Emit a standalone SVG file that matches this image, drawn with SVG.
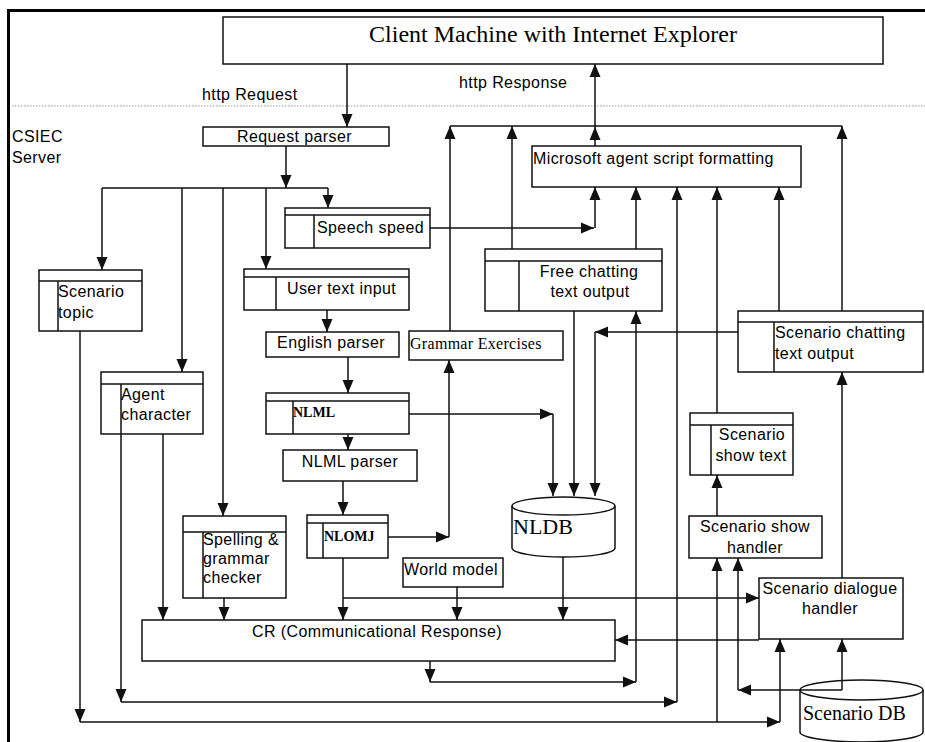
<svg xmlns="http://www.w3.org/2000/svg" width="925" height="742" viewBox="0 0 925 742">
<style>
.b{fill:#fff;stroke:#111;stroke-width:1.5}
.n{fill:none;stroke:#111;stroke-width:1.5}
.t{font-family:"Liberation Sans",Arial,sans-serif;font-size:16px;letter-spacing:0.4px;fill:#000}
.s{font-family:"Liberation Serif","Times New Roman",serif;fill:#000}
.c{text-anchor:middle}
#conn path{fill:none;stroke:#111;stroke-width:1.5}
#conn .a{marker-end:url(#ah)}
</style>
<defs>
<marker id="ah" markerWidth="13" markerHeight="12" refX="13" refY="6" orient="auto" markerUnits="userSpaceOnUse">
<path d="M0,0.5 L13,6 L0,11.5 z" fill="#111"/>
</marker>
</defs>
<rect x="0" y="0" width="925" height="742" fill="#fff"/>
<g id="frame">
<path d="M8.5,742 V10.5 H925" fill="none" stroke="#000" stroke-width="3"/>
<path d="M12,106 H925" fill="none" stroke="#999" stroke-width="1" stroke-dasharray="1.5,1.5"/>
<text class="t" x="202" y="100">http Request</text>
<text class="t" x="459" y="88">http Response</text>
<text class="t" x="12" y="142">CSIEC</text>
<text class="t" x="12" y="163">Server</text>
</g>
<g id="client"><rect class="b" x="223" y="17" width="660" height="47"/><text class="s c" x="553" y="42" font-size="24">Client Machine with Internet Explorer</text></g>
<g id="request-parser"><rect class="b" x="203" y="127" width="186" height="19"/><text class="t" x="237" y="142">Request parser</text></g>
<g id="ms-agent"><rect class="b" x="532" y="146" width="269" height="41"/><text class="t" x="533" y="164">Microsoft agent script formatting</text></g>
<g id="speech-speed"><rect class="b" x="285" y="208" width="145" height="40"/><path class="n" d="M285,215 H430 M314,215 V248"/><text class="t" x="317" y="233">Speech speed</text></g>
<g id="user-text-input"><rect class="b" x="244" y="269" width="165" height="41"/><path class="n" d="M244,277 H409 M276,277 V310"/><text class="t" x="287" y="294">User text input</text></g>
<g id="english-parser"><rect class="b" x="266" y="332" width="133" height="25"/><text class="t c" x="331" y="348">English parser</text></g>
<g id="grammar-exercises"><rect class="b" x="409" y="331" width="154" height="29"/><text class="s" x="410" y="349" font-size="16" letter-spacing="0.3">Grammar Exercises</text></g>
<g id="nlml"><rect class="b" x="266" y="393" width="143" height="41"/><path class="n" d="M266,401 H409 M293,401 V434"/><text class="s" x="293" y="417" font-size="14" font-weight="bold">NLML</text></g>
<g id="nlml-parser"><rect class="b" x="283" y="450" width="134" height="31"/><text class="t c" x="350" y="467" font-size="15" letter-spacing="0.2">NLML parser</text></g>
<g id="nlomj"><rect class="b" x="307" y="515" width="81" height="43"/><path class="n" d="M307,523 H388 M323,523 V558"/><text class="s" x="324" y="541" font-size="14" font-weight="bold">NLOMJ</text></g>
<g id="world-model"><rect class="b" x="403" y="558" width="100" height="29"/><text class="t" x="404" y="575">World model</text></g>
<g id="free-chatting"><rect class="b" x="485" y="249" width="177" height="62"/><path class="n" d="M485,261 H662 M519,261 V311"/><text class="t c" x="589" y="277">Free chatting</text><text class="t c" x="590" y="297">text output</text></g>
<g id="scenario-chatting"><rect class="b" x="738" y="311" width="185" height="61"/><path class="n" d="M738,322 H923 M774,322 V372"/><text class="t" x="775" y="338">Scenario chatting</text><text class="t" x="775" y="359">text output</text></g>
<g id="scenario-topic"><rect class="b" x="39" y="270" width="103" height="61"/><path class="n" d="M39,281 H142 M58,281 V331"/><text class="t" x="58" y="297">Scenario</text><text class="t" x="58" y="318">topic</text></g>
<g id="agent-character"><rect class="b" x="101" y="372" width="102" height="62"/><path class="n" d="M101,384 H203 M121,384 V434"/><text class="t" x="121" y="400">Agent</text><text class="t" x="121" y="420">character</text></g>
<g id="spelling-checker"><rect class="b" x="183" y="516" width="103" height="82"/><path class="n" d="M183,532 H286 M203,532 V598"/><text class="t" x="203" y="545" font-size="15" letter-spacing="0.2">Spelling &amp;</text><text class="t" x="203" y="564" font-size="15" letter-spacing="0.2">grammar</text><text class="t" x="203" y="583" font-size="15" letter-spacing="0.2">checker</text></g>
<g id="scenario-show-text"><rect class="b" x="690" y="413" width="103" height="62"/><path class="n" d="M690,425 H793 M711,425 V475"/><text class="t c" x="752" y="440">Scenario</text><text class="t c" x="751" y="461">show text</text></g>
<g id="scenario-show-handler"><rect class="b" x="689" y="516" width="133" height="42"/><text class="t c" x="755" y="532">Scenario show</text><text class="t c" x="755" y="553">handler</text></g>
<g id="scenario-dialogue-handler"><rect class="b" x="759" y="578" width="144" height="61"/><text class="t c" x="830" y="594">Scenario dialogue</text><text class="t c" x="830" y="614">handler</text></g>
<g id="cr"><rect class="b" x="142" y="620" width="473" height="41"/><text class="t c" x="377" y="637">CR (Communicational Response)</text></g>
<g id="nldb"><path class="b" d="M512,506 A51.5,9 0 0 1 615,506 V548 A51.5,9 0 0 1 512,548 Z"/><path class="n" d="M512,506 A51.5,9 0 0 0 615,506"/><text class="s" x="513" y="534" font-size="22">NLDB</text></g>
<g id="scenario-db"><path class="b" d="M800,690 A61.5,10 0 0 1 923,690 V732 A61.5,10 0 0 1 800,732 Z"/><path class="n" d="M800,690 A61.5,10 0 0 0 923,690"/><text class="s" x="803" y="720" font-size="20">Scenario DB</text></g>
<g id="conn">
<path class="a" d="M347,64 V127"/>
<path class="a" d="M286,146 V188"/>
<path d="M102,188 H328"/>
<path class="a" d="M102,188 V270"/>
<path class="a" d="M182,188 V372"/>
<path class="a" d="M223,188 V516"/>
<path class="a" d="M266,188 V269"/>
<path class="a" d="M328,188 V208"/>
<path class="a" d="M327,310 V332"/>
<path class="a" d="M348,357 V393"/>
<path class="a" d="M348,434 V450"/>
<path class="a" d="M343,481 V515"/>
<path class="a" d="M343,558 V620"/>
<path class="a" d="M343,598 H759"/>
<path class="a" d="M388,537 H449"/>
<path class="a" d="M449,537 V360"/>
<path class="a" d="M450,331 V126"/>
<path class="a" d="M512,249 V126"/>
<path class="a" d="M595,146 V127"/>
<path class="a" d="M595,127 V64"/>
<path d="M450,126 H842"/>
<path class="a" d="M842,311 V126"/>
<path class="a" d="M430,228 H594"/>
<path class="a" d="M595,228 V187"/>
<path class="a" d="M636,249 V187"/>
<path class="a" d="M121,434 V702"/>
<path class="a" d="M121,702 H677"/>
<path class="a" d="M677,702 V187"/>
<path class="a" d="M717,413 V187"/>
<path class="a" d="M779,311 V187"/>
<path class="a" d="M738,332 H595"/>
<path class="a" d="M595,332 V496"/>
<path class="a" d="M574,311 V496"/>
<path class="a" d="M409,414 H553"/>
<path class="a" d="M553,414 V496"/>
<path class="a" d="M563,557 V620"/>
<path class="a" d="M457,587 V620"/>
<path class="a" d="M224,598 V620"/>
<path class="a" d="M163,434 V620"/>
<path class="a" d="M80,331 V722"/>
<path class="a" d="M80,722 H780"/>
<path class="a" d="M780,722 V639"/>
<path class="a" d="M717,722 V558"/>
<path class="a" d="M430,661 V682"/>
<path class="a" d="M430,682 H636"/>
<path class="a" d="M636,682 V311"/>
<path class="a" d="M759,640 H615"/>
<path class="a" d="M717,516 V475"/>
<path class="a" d="M842,578 V372"/>
<path class="a" d="M842,690 V639"/>
<path class="a" d="M842,690 H738"/>
<path class="a" d="M738,690 V558"/>
</g>
</svg>
